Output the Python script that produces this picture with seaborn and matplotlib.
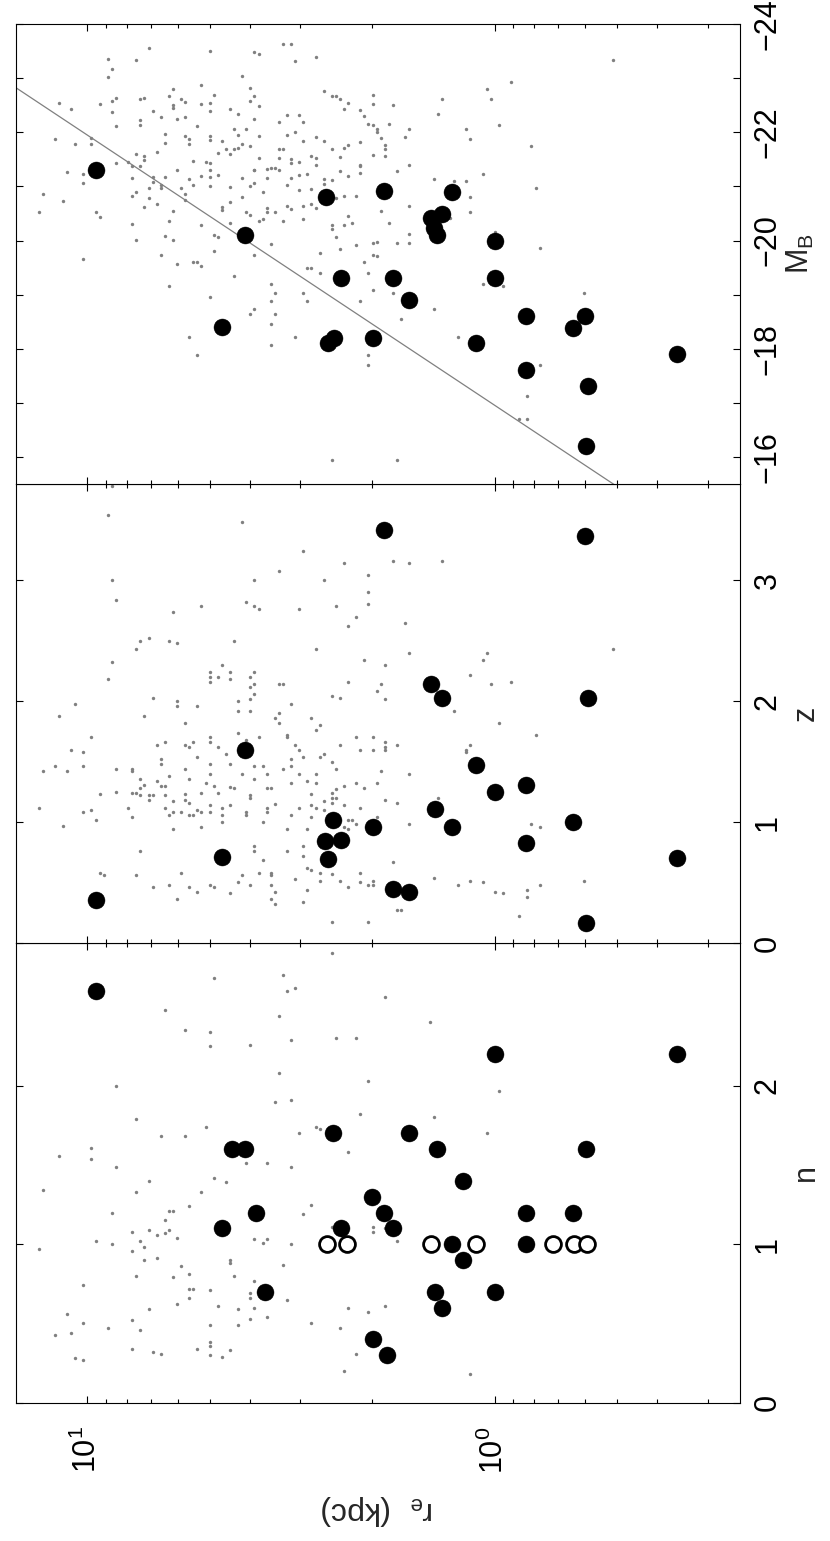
"""
Effective radius r_e against Sersic n, redshift z and M_B, laid out the way
the figure sits on the page (turned by 90 degrees, r_e runs across).
"""
import matplotlib
matplotlib.use("Agg")
import matplotlib.pyplot as plt
import numpy as np
import pandas as pd
import seaborn as sns
from matplotlib.ticker import LogFormatterMathtext, LogLocator, NullFormatter

# comparison sample (grey points): (log10 r_e [kpc], value)
bg_n = [
    (0.40, 2.84), (0.69, 2.68), (0.52, 2.70), (0.51, 2.60), (0.49, 2.62), (0.27, 2.56), (0.81, 2.48),
    (0.53, 2.44), (0.76, 2.35), (0.70, 2.34), (0.70, 2.25), (0.60, 2.26), (0.50, 2.29), (0.39, 2.30),
    (0.34, 2.30), (0.53, 2.08), (0.93, 2.00), (0.31, 2.03), (0.54, 1.90), (0.50, 1.91), (0.33, 1.82),
    (0.88, 1.79), (0.82, 1.68), (0.76, 1.68), (0.71, 1.74), (0.48, 1.70), (0.44, 1.74), (0.43, 1.73),
    (0.36, 1.58), (1.07, 1.56), (0.99, 1.61), (0.99, 1.54), (0.93, 1.49), (0.61, 1.51), (0.56, 1.51),
    (0.50, 1.49), (0.85, 1.40), (0.69, 1.42), (0.66, 1.39), (1.11, 1.34), (0.88, 1.33), (0.72, 1.33),
    (0.75, 1.24), (0.45, 1.25), (0.94, 1.20), (0.80, 1.21), (0.79, 1.21), (0.47, 1.19), (0.81, 1.15),
    (0.89, 1.08), (0.85, 1.09), (0.83, 1.06), (0.81, 1.07), (0.80, 1.09), (0.78, 1.04), (0.98, 1.02),
    (0.94, 1.00), (0.87, 1.02), (0.86, 0.98), (0.89, 0.96), (1.12, 0.97), (0.59, 1.03), (0.57, 1.01),
    (0.56, 1.03), (0.50, 1.00), (0.40, 1.11), (0.30, 1.11), (0.30, 1.08), (0.27, 1.10), (0.24, 1.02),
    (0.86, 0.90), (0.83, 0.91), (0.65, 0.90), (0.65, 0.88), (0.77, 0.86), (0.52, 0.87), (0.75, 0.81),
    (0.88, 0.80), (0.79, 0.79), (0.64, 0.80), (1.01, 0.74), (0.75, 0.72), (0.74, 0.72), (0.70, 0.71),
    (0.59, 0.77), (0.60, 0.69), (0.60, 0.66), (0.75, 0.66), (0.51, 0.65), (0.78, 0.62), (0.85, 0.59),
    (0.68, 0.61), (0.63, 0.59), (0.59, 0.60), (0.36, 0.60), (0.31, 0.57), (0.27, 0.61), (1.05, 0.56),
    (1.01, 0.50), (0.95, 0.47), (0.89, 0.52), (0.87, 0.46), (0.70, 0.49), (0.63, 0.49), (0.60, 0.53),
    (0.56, 0.54), (0.45, 0.50), (0.38, 0.47), (1.08, 0.43), (1.04, 0.44), (0.89, 0.34), (0.84, 0.32),
    (0.82, 0.31), (0.73, 0.34), (0.70, 0.38), (0.70, 0.36), (0.70, 0.30), (0.67, 0.29), (0.65, 0.33),
    (1.03, 0.28), (1.01, 0.27), (0.34, 0.31), (0.37, 0.20), (0.16, 2.40), (-0.01, 1.97), (0.15, 1.80),
    (0.02, 1.70), (0.06, 0.18),
]

bg_z = [
    (0.94, 3.78), (0.95, 3.54), (0.62, 3.48), (0.47, 3.24), (0.37, 3.14), (0.25, 3.16), (0.21, 3.14),
    (0.53, 3.08), (0.94, 3.00), (0.59, 3.00), (0.42, 3.00), (0.31, 3.04), (0.93, 2.84), (0.31, 2.90),
    (0.31, 2.80), (0.72, 2.79), (0.61, 2.82), (0.59, 2.79), (0.58, 2.76), (0.48, 2.76), (0.39, 2.79),
    (0.79, 2.74), (0.34, 2.70), (0.36, 2.62), (0.22, 2.65), (0.87, 2.50), (0.85, 2.52), (0.80, 2.50),
    (0.78, 2.48), (0.64, 2.50), (0.88, 2.43), (0.44, 2.43), (0.21, 2.40), (0.94, 2.32), (0.32, 2.34),
    (0.27, 2.30), (0.95, 2.18), (0.70, 2.24), (0.70, 2.20), (0.68, 2.20), (0.67, 2.30), (0.70, 2.16),
    (0.65, 2.24), (0.65, 2.18), (0.60, 2.20), (0.59, 2.24), (0.60, 2.12), (0.59, 2.14), (0.59, 2.06),
    (0.53, 2.14), (0.52, 2.14), (0.36, 2.16), (0.28, 2.14), (0.29, 2.08), (0.27, 2.02), (0.40, 2.04),
    (0.38, 2.03), (1.03, 1.98), (0.84, 2.03), (0.78, 2.00), (0.78, 1.96), (0.73, 1.96), (0.63, 2.00),
    (0.60, 2.02), (0.63, 1.92), (0.60, 1.92), (0.50, 1.98), (1.07, 1.88), (0.86, 1.88), (0.76, 1.82),
    (0.54, 1.86), (0.53, 1.90), (0.53, 1.82), (0.45, 1.86), (0.43, 1.80), (0.44, 1.76), (0.63, 1.74),
    (0.99, 1.70), (0.83, 1.64), (0.81, 1.66), (0.76, 1.64), (0.75, 1.62), (0.74, 1.66), (0.70, 1.66),
    (0.70, 1.70), (0.68, 1.62), (0.66, 1.56), (0.61, 1.68), (0.58, 1.70), (0.51, 1.72), (0.51, 1.70),
    (0.49, 1.64), (0.48, 1.60), (0.38, 1.64), (0.34, 1.70), (0.33, 1.60), (0.30, 1.70), (0.30, 1.60),
    (0.27, 1.66), (0.27, 1.62), (0.27, 1.60), (0.24, 1.64), (1.04, 1.60), (1.01, 1.58), (0.73, 1.54),
    (0.47, 1.54), (0.43, 1.54), (0.42, 1.56), (1.11, 1.42), (1.08, 1.46), (1.05, 1.42), (1.01, 1.46),
    (0.93, 1.44), (0.89, 1.44), (0.89, 1.42), (0.82, 1.52), (0.82, 1.48), (0.80, 1.38), (0.76, 1.44),
    (0.75, 1.36), (0.70, 1.48), (0.70, 1.40), (0.65, 1.48), (0.62, 1.40), (0.59, 1.46), (0.59, 1.36),
    (0.57, 1.46), (0.56, 1.40), (0.52, 1.44), (0.50, 1.46), (0.50, 1.52), (0.48, 1.40), (0.46, 1.34),
    (0.44, 1.40), (0.40, 1.50), (0.39, 1.44), (0.28, 1.42), (0.21, 1.40), (0.87, 1.36), (0.87, 1.28),
    (0.86, 1.31), (0.83, 1.34), (0.82, 1.30), (0.81, 1.30), (0.97, 1.23), (0.93, 1.25), (0.89, 1.24),
    (0.88, 1.24), (0.87, 1.22), (0.85, 1.18), (0.85, 1.22), (0.84, 1.22), (0.81, 1.22), (0.76, 1.23),
    (0.72, 1.24), (0.71, 1.32), (0.69, 1.30), (0.68, 1.24), (0.65, 1.29), (0.64, 1.28), (0.56, 1.28),
    (0.55, 1.28), (0.50, 1.32), (0.45, 1.23), (0.44, 1.32), (0.40, 1.24), (0.39, 1.27), (0.37, 1.30),
    (0.34, 1.32), (0.32, 1.28), (0.29, 1.32), (0.27, 1.18), (0.24, 1.16), (1.12, 1.12), (1.01, 1.08),
    (0.99, 1.10), (0.98, 1.02), (0.90, 1.12), (0.89, 1.04), (0.81, 1.12), (0.80, 1.06), (0.79, 1.08),
    (0.79, 1.17), (0.77, 1.08), (0.76, 1.18), (0.75, 1.16), (0.75, 1.06), (0.74, 1.06), (0.73, 1.10),
    (0.72, 1.08), (0.70, 1.14), (0.70, 1.08), (0.67, 1.12), (0.67, 1.06), (0.65, 1.14), (0.61, 1.08),
    (0.61, 1.06), (0.60, 1.20), (0.60, 1.22), (0.57, 1.00), (0.56, 1.08), (0.56, 1.12), (0.54, 1.15),
    (0.50, 1.06), (0.48, 1.12), (0.45, 1.14), (0.44, 1.12), (0.42, 1.17), (0.42, 1.10), (0.40, 1.20),
    (0.40, 1.16), (0.39, 1.20), (0.37, 1.14), (0.33, 1.12), (0.36, 1.02), (0.35, 1.02), (0.34, 0.98),
    (1.06, 0.97), (0.79, 0.94), (0.72, 0.96), (0.67, 1.00), (0.51, 0.94), (0.46, 0.94), (0.45, 1.04),
    (0.37, 0.96), (0.36, 0.94), (0.29, 1.04), (0.21, 0.98), (0.87, 0.76), (0.59, 0.80), (0.59, 0.76),
    (0.51, 0.76), (0.47, 0.80), (0.47, 0.72), (0.57, 0.69), (0.97, 0.58), (0.96, 0.56), (0.88, 0.56),
    (0.84, 0.46), (0.80, 0.48), (0.77, 0.58), (0.75, 0.46), (0.73, 0.42), (0.70, 0.48), (0.69, 0.46),
    (0.65, 0.41), (0.63, 0.50), (0.62, 0.56), (0.60, 0.48), (0.58, 0.58), (0.55, 0.56), (0.55, 0.58),
    (0.55, 0.48), (0.54, 0.42), (0.55, 0.36), (0.54, 0.32), (0.78, 0.36), (0.49, 0.53), (0.47, 0.34),
    (0.46, 0.62), (0.46, 0.44), (0.45, 0.60), (0.43, 0.51), (0.43, 0.58), (0.40, 0.57), (0.38, 0.51),
    (0.36, 0.46), (0.33, 0.50), (0.33, 0.58), (0.31, 0.48), (0.30, 0.51), (0.30, 0.48), (0.25, 0.67),
    (0.24, 0.27), (0.23, 0.27), (0.40, 0.17), (0.31, 0.17), (0.13, 3.16), (0.02, 2.40), (0.03, 2.34),
    (-0.29, 2.43), (0.06, 2.22), (-0.04, 2.16), (0.01, 2.14), (0.10, 1.92), (-0.01, 1.82), (-0.10, 1.72),
    (0.06, 1.64), (0.07, 1.60), (0.07, 1.58), (0.14, 1.20), (-0.09, 0.98), (-0.11, 0.96), (0.15, 0.54),
    (0.09, 0.48), (0.06, 0.51), (0.03, 0.50), (0.00, 0.42), (-0.02, 0.41), (-0.08, 0.44), (-0.08, 0.38),
    (-0.11, 0.48), (-0.22, 0.51), (-0.06, 0.22),
]

bg_mb = [
    (0.85, -23.56), (0.70, -23.51), (0.59, -23.49), (0.58, -23.46), (0.52, -23.64), (0.50, -23.64),
    (0.95, -23.36), (0.88, -23.34), (0.49, -23.32), (0.44, -23.40), (0.94, -23.17), (0.95, -23.03),
    (0.62, -23.04), (0.72, -22.88), (0.79, -22.80), (0.60, -22.83), (0.42, -22.77), (0.40, -22.67),
    (0.39, -22.68), (0.38, -22.62), (0.30, -22.70), (0.80, -22.67), (0.59, -22.67), (0.86, -22.64),
    (0.87, -22.62), (0.77, -22.61), (0.69, -22.70), (0.93, -22.63), (0.94, -22.58), (1.07, -22.55),
    (0.97, -22.52), (1.04, -22.43), (0.94, -22.37), (0.93, -22.12), (0.84, -22.39), (0.82, -22.29),
    (0.79, -22.50), (0.79, -22.46), (0.76, -22.57), (0.72, -22.52), (0.70, -22.55), (0.70, -22.39),
    (0.65, -22.43), (0.63, -22.35), (0.60, -22.59), (0.58, -22.48), (0.53, -22.20), (0.51, -22.32),
    (0.48, -22.32), (0.47, -22.19), (0.36, -22.54), (0.37, -22.43), (0.33, -22.41), (0.32, -22.30),
    (0.31, -22.16), (0.30, -22.13), (0.26, -22.16), (0.25, -22.51), (0.29, -22.07), (0.29, -22.00),
    (0.21, -22.06), (0.87, -22.23), (0.87, -22.13), (0.78, -22.24), (0.76, -22.28), (0.73, -22.12),
    (0.64, -22.06), (0.61, -22.07), (0.59, -22.24), (0.30, -22.53), (1.08, -21.87), (1.03, -21.79),
    (0.99, -21.79), (0.99, -21.89), (0.81, -21.97), (0.81, -21.80), (0.76, -21.94), (0.75, -21.79),
    (0.75, -21.87), (0.70, -21.86), (0.70, -21.93), (0.67, -21.85), (0.66, -21.69), (0.65, -21.61),
    (0.64, -21.69), (0.63, -21.71), (0.63, -21.95), (0.62, -21.78), (0.60, -21.74), (0.58, -21.94),
    (0.51, -21.95), (0.49, -22.00), (0.47, -21.85), (0.44, -21.92), (0.42, -21.84), (0.40, -21.69),
    (0.38, -21.55), (0.37, -21.72), (0.36, -21.76), (0.33, -21.83), (0.30, -21.59), (0.28, -21.90),
    (0.27, -21.76), (0.27, -21.70), (0.27, -21.57), (0.22, -21.92), (0.83, -21.64), (0.88, -21.60),
    (0.86, -21.56), (0.86, -21.49), (0.93, -21.44), (0.90, -21.45), (0.89, -21.38), (0.87, -21.37),
    (0.74, -21.48), (0.71, -21.46), (0.70, -21.44), (0.68, -21.62), (0.58, -21.53), (0.59, -21.31),
    (0.53, -21.70), (0.52, -21.70), (0.53, -21.52), (0.50, -21.51), (0.50, -21.43), (0.48, -21.45),
    (0.45, -21.57), (0.44, -21.53), (0.44, -21.39), (0.33, -21.38), (1.05, -21.26), (1.01, -21.23),
    (1.01, -21.07), (0.89, -21.16), (0.84, -21.17), (0.84, -21.09), (0.82, -21.03), (0.82, -20.97),
    (0.81, -21.17), (0.78, -21.31), (0.77, -20.98), (0.75, -21.13), (0.74, -21.02), (0.72, -21.19),
    (0.70, -21.18), (0.70, -21.00), (0.70, -21.31), (0.68, -21.21), (0.65, -20.99), (0.62, -21.16),
    (0.60, -21.01), (0.59, -21.07), (0.59, -21.31), (0.57, -20.90), (0.56, -21.15), (0.56, -21.32),
    (0.55, -21.34), (0.54, -21.34), (0.53, -21.31), (0.51, -21.03), (0.50, -21.16), (0.48, -21.21),
    (0.48, -20.94), (0.46, -21.23), (0.45, -20.95), (0.42, -21.13), (0.42, -21.04), (0.40, -21.12),
    (0.38, -21.29), (0.36, -21.19), (0.33, -21.40), (0.33, -21.25), (0.24, -21.29), (0.21, -21.39),
    (1.11, -20.87), (1.06, -20.73), (1.12, -20.52), (0.89, -20.83), (0.88, -20.89), (0.86, -20.62),
    (0.85, -20.79), (0.85, -20.97), (0.83, -20.68), (0.76, -20.87), (0.76, -20.75), (0.79, -20.55),
    (0.67, -20.62), (0.67, -20.56), (0.65, -20.71), (0.62, -20.81), (0.61, -20.52), (0.60, -20.48),
    (0.58, -20.36), (0.57, -20.40), (0.56, -20.61), (0.56, -20.52), (0.54, -20.52), (0.52, -20.36),
    (0.51, -20.63), (0.50, -20.59), (0.47, -20.63), (0.45, -20.68), (0.44, -20.61), (0.39, -20.79),
    (0.37, -20.83), (0.34, -20.83), (0.28, -20.54), (0.21, -20.63), (0.98, -20.52), (0.97, -20.44),
    (0.89, -20.30), (0.88, -20.01), (0.81, -20.08), (0.80, -20.36), (0.79, -20.01), (0.72, -20.28),
    (0.69, -20.10), (0.68, -20.07), (0.69, -19.81), (0.65, -20.32), (0.59, -19.74), (0.55, -19.93),
    (0.47, -20.39), (0.40, -20.28), (0.40, -20.21), (0.39, -20.07), (0.38, -19.84), (0.37, -20.28),
    (0.36, -20.46), (0.35, -20.32), (0.34, -19.92), (0.30, -19.96), (0.30, -19.74), (0.29, -19.97),
    (0.29, -19.71), (0.26, -20.32), (0.24, -19.95), (0.21, -20.12), (0.21, -19.95), (0.82, -19.74),
    (1.01, -19.65), (0.78, -19.56), (0.74, -19.61), (0.73, -19.60), (0.72, -19.52), (0.43, -19.77),
    (0.32, -19.60), (0.46, -19.49), (0.45, -19.50), (0.43, -19.39), (0.31, -19.39), (0.64, -19.35),
    (0.80, -19.15), (0.70, -18.96), (0.55, -19.20), (0.54, -19.02), (0.55, -18.88), (0.47, -19.02),
    (0.46, -18.88), (0.33, -18.88), (0.30, -19.08), (0.25, -19.02), (0.23, -18.55), (0.54, -18.64),
    (0.59, -18.73), (0.60, -18.64), (0.55, -18.45), (0.75, -18.21), (0.73, -17.89), (0.55, -18.06),
    (0.49, -18.21), (0.31, -17.89), (0.31, -17.69), (0.40, -15.94), (0.24, -15.94), (-0.29, -23.34),
    (-0.04, -22.94), (0.02, -22.80), (0.13, -22.62), (0.01, -22.62), (0.14, -22.34), (0.07, -22.06),
    (0.06, -21.87), (-0.01, -22.14), (-0.09, -21.74), (0.03, -21.23), (0.15, -21.13), (0.10, -21.11),
    (0.07, -21.10), (-0.10, -20.98), (0.06, -20.81), (0.06, -20.52), (0.11, -20.41), (-0.11, -19.87),
    (0.00, -20.15), (0.03, -19.20), (-0.02, -19.15), (-0.22, -19.02), (0.15, -18.74), (0.09, -18.21),
    (-0.11, -17.70), (-0.08, -17.13), (-0.06, -16.69), (-0.08, -16.69),
]

# our galaxies (black): (r_e [kpc], value)
gal_n = [
    (9.5, 2.60), (4.41, 1.60), (4.10, 1.60), (2.50, 1.70), (1.62, 1.70), (2.00, 1.30), (1.87, 1.20),
    (1.78, 1.10), (3.85, 1.20), (4.68, 1.10), (2.39, 1.10), (3.67, 0.70), (1.99, 0.40), (1.84, 0.30),
    (1.39, 1.60), (0.596, 1.60), (1.20, 1.40), (0.84, 1.20), (0.643, 1.20), (1.27, 1.00), (0.84, 1.00),
    (1.20, 0.90), (1.40, 0.70), (1.35, 0.60), (1.00, 0.70), (1.00, 2.20), (0.357, 2.20),
]
# fits with n held at 1 (open circles)
gal_n_fixed = [(2.58, 1.0), (2.31, 1.0), (1.43, 1.0), (1.11, 1.0), (0.719, 1.0), (0.64, 1.0), (0.593, 1.0)]

gal_z = [
    (1.87, 3.42), (4.10, 1.60), (2.50, 1.02), (1.99, 0.956), (2.61, 0.84), (2.39, 0.853), (2.56, 0.693),
    (4.68, 0.707), (9.5, 0.356), (1.78, 0.447), (1.62, 0.425), (0.602, 3.37), (1.43, 2.14), (1.35, 2.03),
    (0.591, 2.03), (1.11, 1.475), (0.84, 1.304), (1.00, 1.249), (1.40, 1.11), (1.27, 0.961), (0.643, 1.00),
    (0.84, 0.829), (0.357, 0.70), (0.596, 0.163),
]

gal_mb = [
    (9.5, -21.30), (2.60, -20.81), (1.87, -20.91), (4.10, -20.10), (2.39, -19.30), (1.78, -19.30),
    (1.62, -18.90), (4.68, -18.40), (2.48, -18.20), (2.56, -18.10), (1.99, -18.20), (1.27, -20.89),
    (1.35, -20.50), (1.43, -20.41), (1.41, -20.23), (1.39, -20.10), (1.00, -20.00), (1.00, -19.30),
    (0.84, -18.61), (0.602, -18.61), (0.643, -18.39), (1.11, -18.10), (0.357, -17.90), (0.84, -17.61),
    (0.591, -17.30), (0.596, -16.20),
]

# constant surface brightness line: log10 r_e = slope * M_B + zero
line_mb = [-25.0, -15.0]
line_slope, line_zero = -0.2, -3.39

n_ticks = [0, 1, 2]
z_ticks = [0, 1, 2, 3]
mb_ticks = list(range(-24, -15))

GREY = "#808080"
FS = 22

sns.set_theme(style="white")
plt.rcParams["font.family"] = ["Liberation Sans", "DejaVu Sans"]
plt.rcParams["mathtext.default"] = "regular"
plt.rcParams["axes.edgecolor"] = "black"
plt.rcParams["axes.linewidth"] = 0.8


def bg_frame(pairs, col):
    df = pd.DataFrame(pairs, columns=["log_re", col])
    df["re"] = 10 ** df["log_re"]
    return df


def gal_frame(pairs, col):
    return pd.DataFrame(pairs, columns=["re", col])


def style(ax, show_x):
    ax.set_xscale("log")
    ax.set_xlim(15, 0.25)
    ax.xaxis.set_major_locator(LogLocator(base=10))
    ax.xaxis.set_major_formatter(LogFormatterMathtext())
    ax.xaxis.set_minor_locator(LogLocator(base=10, subs=np.arange(2, 10)))
    ax.xaxis.set_minor_formatter(NullFormatter())
    ax.tick_params(which="both", direction="in", top=True, bottom=True, left=True, right=True,
                   labelleft=False, labelright=True, labeltop=False, labelbottom=show_x,
                   width=0.8, colors="black", labelsize=FS)
    ax.tick_params(which="major", length=5)
    ax.tick_params(which="minor", length=3)
    ax.tick_params(axis="x", pad=17, labelrotation=90)
    ax.tick_params(axis="y", pad=9)
    ax.yaxis.set_label_position("right")
    for sp in ax.spines.values():
        sp.set_color("black")
        sp.set_linewidth(0.8)
    ax.set_xlabel("")


def draw_points(ax, bg, gal, col):
    sns.scatterplot(data=bg, x="re", y=col, ax=ax, color=GREY, s=6, linewidth=0, zorder=1, legend=False)
    sns.scatterplot(data=gal, x="re", y=col, ax=ax, color="black", s=150, edgecolor="black",
                    linewidth=0.3, zorder=3, legend=False)


fig = plt.figure(figsize=(8.3, 15.41), dpi=100)
left, width, height = 0.0189, 0.8727, 0.2981
ax_n = fig.add_axes([left, 0.0898, width, height])
ax_z = fig.add_axes([left, 0.3881, width, height])
ax_m = fig.add_axes([left, 0.6861, width, height])

# n panel
draw_points(ax_n, bg_frame(bg_n, "n"), gal_frame(gal_n, "n"), "n")
sns.scatterplot(data=gal_frame(gal_n_fixed, "n"), x="re", y="n", ax=ax_n, color="white",
                edgecolor="black", s=130, linewidth=2.0, zorder=3, legend=False)
style(ax_n, True)
ax_n.set_ylim(0, 2.9)
ax_n.set_yticks(n_ticks, [str(t) for t in n_ticks], rotation=90, va="center")
ax_n.set_ylabel("n", fontsize=FS, rotation=90, labelpad=6)
ax_n.set_xlabel("r$_e$  (kpc)", fontsize=23, rotation=180, labelpad=14)

# z panel
draw_points(ax_z, bg_frame(bg_z, "z"), gal_frame(gal_z, "z"), "z")
style(ax_z, False)
ax_z.set_ylim(0, 3.8)
ax_z.set_yticks(z_ticks, [str(t) for t in z_ticks], rotation=90, va="center")
ax_z.set_ylabel("z", fontsize=FS, rotation=90, labelpad=6)

# M_B panel, with the constant surface brightness line
line = pd.DataFrame({"mb": line_mb})
line["re"] = 10 ** (line_slope * line["mb"] + line_zero)
sns.lineplot(data=line, x="re", y="mb", ax=ax_m, color=GREY, linewidth=0.9, sort=False,
             estimator=None, zorder=2)
draw_points(ax_m, bg_frame(bg_mb, "mb"), gal_frame(gal_mb, "mb"), "mb")
style(ax_m, False)
ax_m.set_ylim(-15.5, -24)
mb_labels = [f"\u2212{abs(t)}" if t % 2 == 0 else "" for t in mb_ticks]
ax_m.set_yticks(mb_ticks, mb_labels, rotation=90, va="center")
ax_m.set_ylabel("M$_B$", fontsize=FS, rotation=90, labelpad=2)

fig.savefig("out.png", dpi=100)
